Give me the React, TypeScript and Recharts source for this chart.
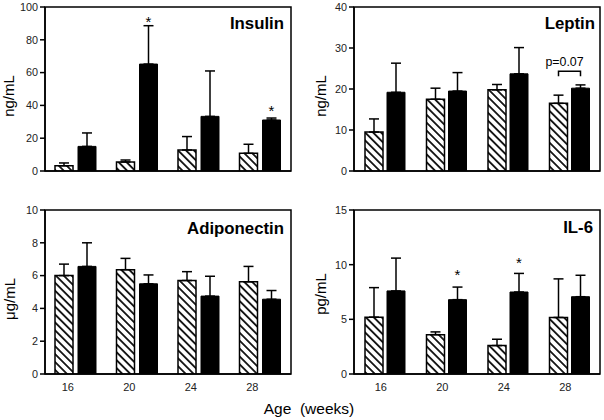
import React from 'react';
import { BarChart, Bar, XAxis, YAxis, ErrorBar, LabelList, ReferenceArea } from 'recharts';

const ages = ['16', '20', '24', '28'];

const insulinHatched = [3.2, 5.5, 12.8, 10.8];
const insulinHatchedErr = [1.7, 1.2, 8.2, 5.5];
const insulinSolid = [15.0, 65.2, 33.3, 31.1];
const insulinSolidErr = [8.2, 23.4, 27.7, 1.2];
const insulinStars = [null, 93, null, 39];
const insulinTicks = [0, 20, 40, 60, 80, 100];

const leptinHatched = [9.5, 17.5, 19.8, 16.5];
const leptinHatchedErr = [3.2, 2.7, 1.3, 2.0];
const leptinSolid = [19.2, 19.5, 23.7, 20.2];
const leptinSolidErr = [7.1, 4.5, 6.4, 0.8];
const leptinBracket = [null, null, null, 24.3];
const leptinBracketText = ['', '', '', 'p=0.07'];
const leptinTicks = [0, 10, 20, 30, 40];

const adipoHatched = [6.0, 6.36, 5.7, 5.62];
const adipoHatchedErr = [0.7, 0.69, 0.54, 0.94];
const adipoSolid = [6.56, 5.5, 4.75, 4.56];
const adipoSolidErr = [1.44, 0.54, 1.21, 0.53];
const adipoTicks = [0, 2, 4, 6, 8, 10];

const il6Hatched = [5.2, 3.6, 2.6, 5.17];
const il6HatchedErr = [2.7, 0.25, 0.58, 3.53];
const il6Solid = [7.6, 6.8, 7.5, 7.07];
const il6SolidErr = [3.0, 1.15, 1.7, 1.96];
const il6Stars = [null, 9.4, 10.5, null];
const il6Ticks = [0, 5, 10, 15];

const FONT = '"Liberation Sans", Arial, Helvetica, sans-serif';

type PanelProps = {
  id: string;
  left: number;
  top: number;
  width: number;
  height: number;
  margin: { top: number; right: number; bottom: number; left: number };
  yWidth: number;
  xHeight: number;
  showXTicks: boolean;
  tickDx: number;
  barGap: number;
  hatched: number[];
  hatchedErr: number[];
  solid: number[];
  solidErr: number[];
  stars?: (number | null)[];
  bracket?: (number | null)[];
  bracketText?: string[];
  yTicks: number[];
};

function getBox(props: any) {
  const vb = props.viewBox && typeof props.viewBox.x === 'number' ? props.viewBox : props;
  return { x: Number(vb.x), y: Number(vb.y), w: Number(vb.width), h: Number(vb.height) };
}

function Panel(p: PanelProps) {
  const yMax = p.yTicks[p.yTicks.length - 1];
  const data = ages.map((a, i) => ({
    age: a,
    h: p.hatched[i],
    hE: [0, p.hatchedErr[i]],
    s: p.solid[i],
    sE: [0, p.solidErr[i]],
    star: p.stars ? p.stars[i] : null,
    br: p.bracket ? p.bracket[i] : null,
  }));

  const starContent = (props: any) => {
    const { value, index } = props;
    if (value == null) return null;
    const { x, y, w, h } = getBox(props);
    const v = p.solid[index];
    const bottom = y + h;
    const py = bottom - (value / v) * h;
    return (
      <text x={x + w / 2} y={py + 8.5} textAnchor="middle" style={{ fontSize: 15, fontFamily: FONT, fill: '#000' }}>
        *
      </text>
    );
  };

  const bracketContent = (props: any) => {
    const { value, index } = props;
    if (value == null) return null;
    const { x, y, w, h } = getBox(props);
    const v = p.solid[index];
    const bottom = y + h;
    const py = bottom - (value / v) * h;
    const x2 = x + w / 2;
    const x1 = x - p.barGap - w / 2;
    const txt = p.bracketText ? p.bracketText[index] : '';
    return (
      <g>
        <path d={`M${x1},${py + 5} L${x1},${py} L${x2},${py} L${x2},${py + 5}`} style={{ fill: 'none', stroke: '#000', strokeWidth: 1.5 }} />
        <text x={(x1 + x2) / 2 - 5} y={py - 5} textAnchor="middle" style={{ fontSize: 12.4, fontFamily: FONT, fill: '#000', stroke: 'none' }}>
          {txt}
        </text>
      </g>
    );
  };

  const pid = `hatch-${p.id}`;
  return (
    <div style={{ position: 'absolute', left: p.left, top: p.top, width: p.width, height: p.height }}>
      <BarChart
        width={p.width}
        height={p.height}
        data={data}
        margin={p.margin}
        barSize={18}
        barGap={p.barGap}
      >
        <defs>
          <pattern id={pid} patternUnits="userSpaceOnUse" width={5.6} height={5.6} patternTransform="rotate(-45)">
            <rect x={0} y={0} width={5.6} height={5.6} fill="#fff" />
            <line x1={2.8} y1={0} x2={2.8} y2={5.6} stroke="#000" strokeWidth={1.7} />
          </pattern>
        </defs>
        <XAxis
          dataKey="age"
          height={p.xHeight}
          interval={0}
          tickLine={false}
          axisLine={{ stroke: '#000', strokeWidth: 1.5 }}
          tickMargin={3}
          tick={p.showXTicks ? { fontSize: 11, fill: '#222', fontFamily: FONT, dx: p.tickDx } : false}
        />
        <YAxis
          type="number"
          domain={[0, yMax]}
          ticks={p.yTicks}
          interval={0}
          width={p.yWidth}
          tickSize={5}
          tickMargin={2}
          axisLine={{ stroke: '#000', strokeWidth: 1.5 }}
          tickLine={{ stroke: '#000', strokeWidth: 1.5 }}
          tick={{ fontSize: 10.8, fill: '#222', fontFamily: FONT }}
          allowDataOverflow
        />
        <ReferenceArea y1={0} y2={yMax} fill="none" stroke="#000" strokeWidth={1.5} ifOverflow="visible" />
        <Bar dataKey="h" fill={`url(#${pid})`} stroke="#000" strokeWidth={1.5} isAnimationActive={false}>
          <ErrorBar dataKey="hE" width={5} stroke="#000" strokeWidth={1.5} direction="y" />
        </Bar>
        <Bar dataKey="s" fill="#000" stroke="#000" strokeWidth={1} isAnimationActive={false}>
          <ErrorBar dataKey="sE" width={5} stroke="#000" strokeWidth={1.5} direction="y" />
          {p.stars ? <LabelList dataKey="star" content={starContent} /> : null}
          {p.bracket ? <LabelList dataKey="br" content={bracketContent} /> : null}
        </Bar>
      </BarChart>
    </div>
  );
}

const titleStyle = { fontFamily: FONT, fontWeight: 700, fontSize: 16.8, fill: '#000' } as const;
const unitStyle = { fontFamily: FONT, fontSize: 15, fill: '#000' } as const;

export default function App() {
  return (
    <div style={{ position: 'absolute', left: 0, top: 0, width: 604, height: 420, background: '#fff' }}>
      <Panel
        id="ins"
        left={0}
        top={0}
        width={300}
        height={200}
        margin={{ top: 7, right: 9, bottom: 28, left: 0 }}
        yWidth={45}
        xHeight={1}
        showXTicks={false}
        tickDx={-8}
        barGap={5}
        hatched={insulinHatched}
        hatchedErr={insulinHatchedErr}
        solid={insulinSolid}
        solidErr={insulinSolidErr}
        stars={insulinStars}
        yTicks={insulinTicks}
      />
      <Panel
        id="lep"
        left={300}
        top={0}
        width={304}
        height={200}
        margin={{ top: 7, right: 4, bottom: 28, left: 0 }}
        yWidth={54}
        xHeight={1}
        showXTicks={false}
        tickDx={-4}
        barGap={4}
        hatched={leptinHatched}
        hatchedErr={leptinHatchedErr}
        solid={leptinSolid}
        solidErr={leptinSolidErr}
        bracket={leptinBracket}
        bracketText={leptinBracketText}
        yTicks={leptinTicks}
      />
      <Panel
        id="adi"
        left={0}
        top={200}
        width={300}
        height={220}
        margin={{ top: 10, right: 9, bottom: 16, left: 0 }}
        yWidth={45}
        xHeight={30}
        showXTicks={true}
        tickDx={-8}
        barGap={5}
        hatched={adipoHatched}
        hatchedErr={adipoHatchedErr}
        solid={adipoSolid}
        solidErr={adipoSolidErr}
        yTicks={adipoTicks}
      />
      <Panel
        id="il6"
        left={300}
        top={200}
        width={304}
        height={220}
        margin={{ top: 10, right: 4, bottom: 16, left: 0 }}
        yWidth={54}
        xHeight={30}
        showXTicks={true}
        tickDx={-4}
        barGap={4}
        hatched={il6Hatched}
        hatchedErr={il6HatchedErr}
        solid={il6Solid}
        solidErr={il6SolidErr}
        stars={il6Stars}
        yTicks={il6Ticks}
      />
      <svg width={604} height={420} style={{ position: 'absolute', left: 0, top: 0, pointerEvents: 'none' }}>
        <text x={284} y={29} textAnchor="end" style={titleStyle}>Insulin</text>
        <text x={595} y={29} textAnchor="end" style={titleStyle}>Leptin</text>
        <text x={284} y={234} textAnchor="end" style={titleStyle}>Adiponectin</text>
        <text x={593} y={233} textAnchor="end" style={titleStyle}>IL-6</text>
        <text x={14} y={96} textAnchor="middle" transform="rotate(-90 14 96)" style={unitStyle}>ng/mL</text>
        <text x={326} y={96} textAnchor="middle" transform="rotate(-90 326 96)" style={unitStyle}>ng/mL</text>
        <text x={15} y={299} textAnchor="middle" transform="rotate(-90 15 299)" style={unitStyle}>μg/mL</text>
        <text x={326} y={294} textAnchor="middle" transform="rotate(-90 326 294)" style={unitStyle}>pg/mL</text>
        <text x={309} y={414} textAnchor="middle" style={{ fontFamily: FONT, fontSize: 15.5, whiteSpace: 'pre', fill: '#000' }}>Age  (weeks)</text>
      </svg>
    </div>
  );
}
